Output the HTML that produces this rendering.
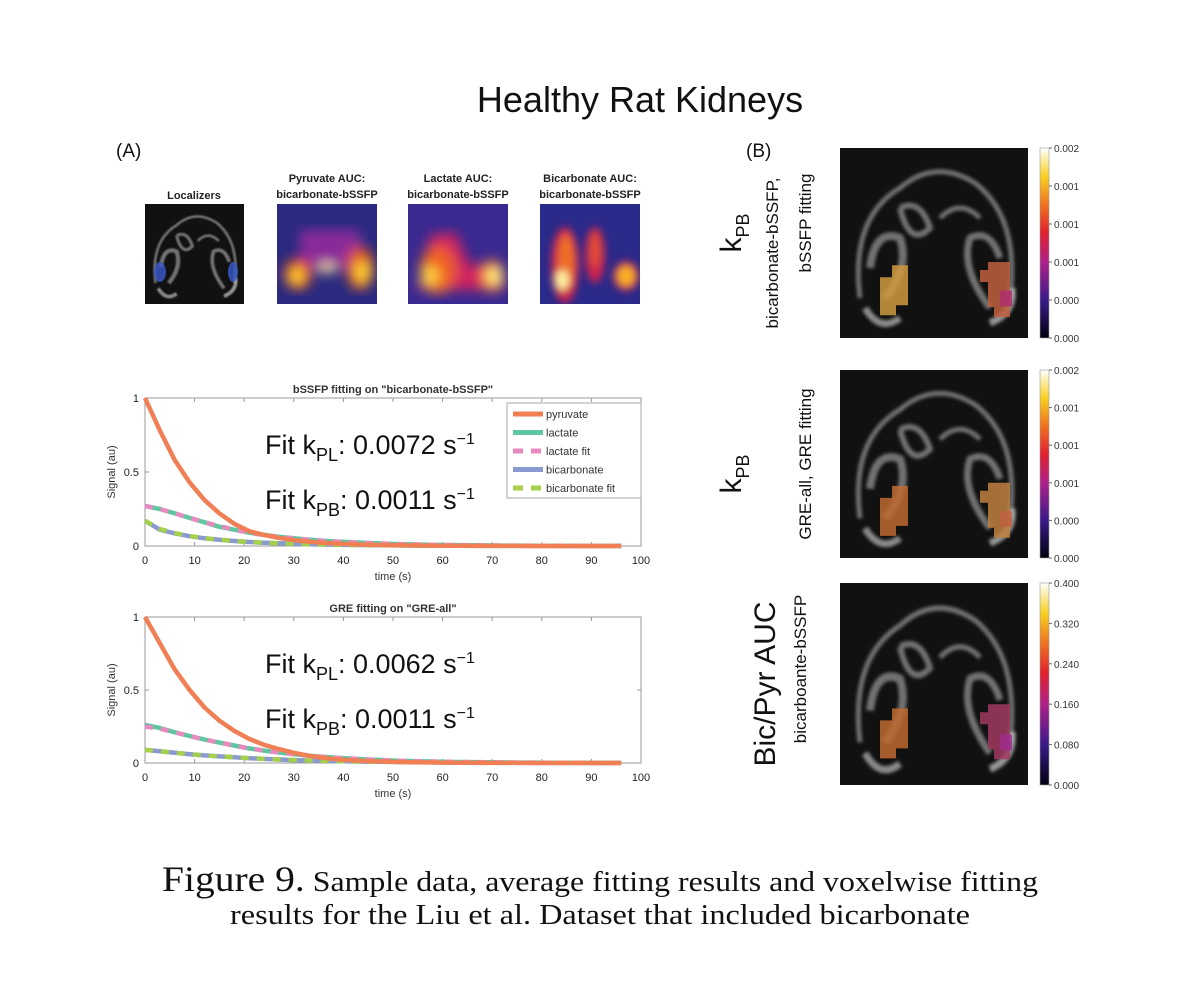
<!DOCTYPE html>
<html><head><meta charset="utf-8"><style>
html,body{margin:0;padding:0;background:#fff;}
svg{display:block;font-family:"Liberation Sans",Arial,sans-serif;}
</style></head><body>
<svg id="fig" width="1200" height="1006" viewBox="0 0 1200 1006" xmlns="http://www.w3.org/2000/svg">
<defs>
  <filter id="blur4"><feGaussianBlur stdDeviation="4"/></filter>
  <filter id="blur6"><feGaussianBlur stdDeviation="6"/></filter>
  <filter id="blur2"><feGaussianBlur stdDeviation="1.5"/></filter>
  <linearGradient id="cmapHot" x1="0" y1="1" x2="0" y2="0">
    <stop offset="0" stop-color="#000010"/><stop offset="0.2" stop-color="#3a1a8a"/>
    <stop offset="0.4" stop-color="#b0208a"/><stop offset="0.55" stop-color="#e02030"/>
    <stop offset="0.7" stop-color="#f07020"/><stop offset="0.85" stop-color="#f8d020"/>
    <stop offset="1" stop-color="#ffffff"/>
  </linearGradient>
  <clipPath id="cA1"><rect x="145" y="204" width="99" height="100"/></clipPath>
  <clipPath id="cA2"><rect x="277" y="204" width="100" height="100"/></clipPath>
  <clipPath id="cA3"><rect x="408" y="204" width="100" height="100"/></clipPath>
  <clipPath id="cA4"><rect x="540" y="204" width="100" height="100"/></clipPath>
  <g id="brain">
    <rect x="0" y="0" width="188" height="190" fill="#111"/>
    <g filter="url(#blur2)" fill="none" stroke="#9a9a9a" stroke-opacity="0.7">
      <path d="M20 150 Q10 70 60 40 Q95 10 135 35 Q180 70 170 150" stroke-width="5"/>
      <path d="M30 120 Q35 80 60 90 Q70 120 45 150" stroke-width="8"/>
      <path d="M160 110 Q150 80 130 90 Q120 120 150 160" stroke-width="7"/>
      <path d="M60 60 Q80 50 90 80 Q70 100 60 60" stroke-width="6"/>
      <path d="M100 70 Q120 50 140 70" stroke-width="5"/>
      <path d="M25 160 Q40 185 60 170" stroke-width="7" stroke="#bbb"/>
      <path d="M150 175 Q175 165 172 140" stroke-width="7" stroke="#ccc"/>
    </g>
  </g>
</defs>

<text x="640" y="112" font-size="36" text-anchor="middle" fill="#111">Healthy Rat Kidneys</text>
<text x="116" y="157" font-size="19" fill="#111">(A)</text>
<text x="746" y="157" font-size="19" fill="#111">(B)</text>

<g font-size="11" font-weight="bold" text-anchor="middle" fill="#222">
  <text x="194" y="199">Localizers</text>
  <text x="327" y="182">Pyruvate AUC:</text>
  <text x="327" y="198">bicarbonate-bSSFP</text>
  <text x="458" y="182">Lactate AUC:</text>
  <text x="458" y="198">bicarbonate-bSSFP</text>
  <text x="590" y="182">Bicarbonate AUC:</text>
  <text x="590" y="198">bicarbonate-bSSFP</text>
</g>
<g clip-path="url(#cA1)">
  <use href="#brain" transform="translate(145,204) scale(0.527,0.527)"/>
  <ellipse cx="160" cy="272" rx="6" ry="10" fill="#3a5ad0" opacity="0.8"/>
  <ellipse cx="233" cy="272" rx="5" ry="10" fill="#3a5ad0" opacity="0.8"/>
</g>
<g clip-path="url(#cA2)">
  <rect x="277" y="204" width="100" height="100" fill="#2a2a80"/>
  <g filter="url(#blur6)">
    <rect x="300" y="230" width="60" height="40" fill="#8a2a9a"/>
    <ellipse cx="298" cy="274" rx="14" ry="16" fill="#e04020"/>
    <ellipse cx="360" cy="268" rx="14" ry="22" fill="#e05020"/>
    <ellipse cx="297" cy="276" rx="8" ry="9" fill="#ffd030"/>
    <ellipse cx="362" cy="272" rx="8" ry="12" fill="#ffd030"/>
    <ellipse cx="327" cy="268" rx="9" ry="5" fill="#ffe0a0"/>
  </g>
</g>
<g clip-path="url(#cA3)">
  <rect x="408" y="204" width="100" height="100" fill="#3a2a90"/>
  <g filter="url(#blur6)">
    <path d="M418 290 L430 235 L455 232 L470 265 L500 262 L505 290 Z" fill="#d02060"/>
    <ellipse cx="438" cy="270" rx="18" ry="24" fill="#f06020"/>
    <ellipse cx="492" cy="276" rx="12" ry="16" fill="#f06020"/>
    <ellipse cx="430" cy="276" rx="9" ry="11" fill="#ffd040"/>
    <ellipse cx="494" cy="276" rx="8" ry="10" fill="#fff080"/>
  </g>
</g>
<g clip-path="url(#cA4)">
  <rect x="540" y="204" width="100" height="100" fill="#2a2a8a"/>
  <g filter="url(#blur4)">
    <ellipse cx="565" cy="265" rx="14" ry="38" fill="#d02050"/>
    <ellipse cx="595" cy="255" rx="10" ry="28" fill="#d02050"/>
    <ellipse cx="626" cy="276" rx="13" ry="15" fill="#d02050"/>
    <ellipse cx="566" cy="262" rx="8" ry="28" fill="#f07020"/>
    <ellipse cx="595" cy="250" rx="5" ry="18" fill="#e05030"/>
    <ellipse cx="626" cy="276" rx="9" ry="10" fill="#f8b020"/>
    <ellipse cx="562" cy="280" rx="7" ry="10" fill="#fff0a0"/>
  </g>
</g>

<g id="chart1"></g>
<g id="chart2"></g>

<g id="panelB"></g>

<text x="162" y="891" font-family="'Liberation Serif',serif" font-size="29" fill="#111" textLength="876" lengthAdjust="spacingAndGlyphs"><tspan font-size="36">Figure 9.</tspan> Sample data, average fitting results and voxelwise fitting</text>
<text x="230" y="924" font-family="'Liberation Serif',serif" font-size="29" fill="#111" textLength="740" lengthAdjust="spacingAndGlyphs">results for the Liu et al. Dataset that included bicarbonate</text>
</svg>

<script>
const NS="http://www.w3.org/2000/svg";
const times=[0,3,6,9,12,15,18,21,24,27,30,33,36,39,42,45,48,51,54,57,60,63,66,69,72,75,78,81,84,87,90,93,96];
const xTicks=[0,10,20,30,40,50,60,70,80,90,100];
const yTicks=[0,0.5,1];
const yTickLabels=["0","0.5","1"];
const c1Pyruvate=[1.0,0.78,0.58,0.43,0.31,0.22,0.15,0.10,0.075,0.055,0.04,0.03,0.022,0.016,0.012,0.009,0.007,0.005,0.004,0.003,0.002,0.002,0.001,0.001,0.001,0.001,0,0,0,0,0,0,0];
const c1Lactate=[0.27,0.25,0.22,0.19,0.16,0.13,0.11,0.09,0.075,0.062,0.052,0.043,0.036,0.03,0.025,0.02,0.016,0.013,0.011,0.009,0.007,0.006,0.005,0.004,0.003,0.003,0.002,0.002,0.002,0.001,0.001,0.001,0.001];
const c1LactateFit=[0.27,0.25,0.22,0.19,0.16,0.135,0.11,0.09,0.074,0.061,0.051,0.042,0.035,0.029,0.024,0.02,0.016,0.013,0.011,0.009,0.007,0.006,0.005,0.004,0.003,0.003,0.002,0.002,0.002,0.001,0.001,0.001,0.001];
const c1Bicarb=[0.17,0.11,0.085,0.066,0.052,0.042,0.034,0.027,0.022,0.018,0.015,0.012,0.01,0.008,0.007,0.006,0.005,0.004,0.003,0.003,0.002,0.002,0.002,0.001,0.001,0.001,0.001,0.001,0,0,0,0,0];
const c1BicarbFit=[0.17,0.115,0.087,0.067,0.053,0.042,0.034,0.027,0.022,0.018,0.015,0.012,0.01,0.008,0.007,0.006,0.005,0.004,0.003,0.003,0.002,0.002,0.002,0.001,0.001,0.001,0.001,0.001,0,0,0,0,0];
const c2Pyruvate=[1.0,0.82,0.64,0.5,0.38,0.29,0.22,0.165,0.125,0.095,0.07,0.05,0.035,0.025,0.018,0.013,0.01,0.007,0.005,0.004,0.003,0.002,0.002,0.001,0.001,0.001,0,0,0,0,0,0,0];
const c2Lactate=[0.26,0.24,0.21,0.185,0.16,0.14,0.12,0.1,0.085,0.072,0.06,0.05,0.042,0.035,0.029,0.024,0.02,0.016,0.013,0.011,0.009,0.007,0.006,0.005,0.004,0.003,0.003,0.002,0.002,0.002,0.001,0.001,0.001];
const c2LactateFit=[0.25,0.235,0.21,0.185,0.16,0.14,0.12,0.1,0.085,0.072,0.06,0.05,0.042,0.035,0.029,0.024,0.02,0.016,0.013,0.011,0.009,0.007,0.006,0.005,0.004,0.003,0.003,0.002,0.002,0.002,0.001,0.001,0.001];
const c2Bicarb=[0.09,0.08,0.07,0.06,0.052,0.045,0.039,0.033,0.028,0.024,0.02,0.017,0.015,0.013,0.011,0.009,0.008,0.007,0.006,0.005,0.004,0.004,0.003,0.003,0.002,0.002,0.002,0.002,0.001,0.001,0.001,0.001,0.001];
const c2BicarbFit=[0.09,0.08,0.07,0.06,0.052,0.045,0.039,0.033,0.028,0.024,0.02,0.017,0.015,0.013,0.011,0.009,0.008,0.007,0.006,0.005,0.004,0.004,0.003,0.003,0.002,0.002,0.002,0.002,0.001,0.001,0.001,0.001,0.001];
const legendLabels=["pyruvate","lactate","lactate fit","bicarbonate","bicarbonate fit"];
const colorbarTicks1=["0.002","0.001","0.001","0.001","0.000","0.000"];
const colorbarTicks3=["0.400","0.320","0.240","0.160","0.080","0.000"];

function mk(tag,attrs,parent,text){const e=document.createElementNS(NS,tag);for(const k in attrs)e.setAttribute(k,attrs[k]);if(text!==undefined)e.textContent=text;parent.appendChild(e);return e;}

function drawChart(g,cfg){
  const L=145,R=641,T=cfg.top,B=cfg.bottom;
  const xs=v=>L+(v/100)*(R-L);
  const ys=v=>B-v*(B-T);
  mk('text',{x:(L+R)/2,y:T-5,'font-size':11,'font-weight':'bold','text-anchor':'middle',fill:'#333'},g,cfg.title);
  const box=mk('rect',{x:L,y:T,width:R-L,height:B-T,fill:'#fff',stroke:'#999','stroke-width':1},g);
  
  
  xTicks.forEach(t=>{
    mk('line',{x1:xs(t),x2:xs(t),y1:B,y2:B-4,stroke:'#999'},g);
    mk('line',{x1:xs(t),x2:xs(t),y1:T,y2:T+4,stroke:'#999'},g);
    const tl=mk('text',{x:xs(t),y:B+18,'font-size':11,'text-anchor':'middle',fill:'#222'},g,String(t));
    
    
  });
  yTicks.forEach((t,i)=>{
    mk('line',{x1:L,x2:L+4,y1:ys(t),y2:ys(t),stroke:'#999'},g);
    mk('line',{x1:R,x2:R-4,y1:ys(t),y2:ys(t),stroke:'#999'},g);
    const tl=mk('text',{x:L-6,y:ys(t)+4,'font-size':11,'text-anchor':'end',fill:'#222'},g,yTickLabels[i]);
    
    
  });
  const xt=mk('text',{x:(L+R)/2,y:B+34,'font-size':11,'text-anchor':'middle',fill:'#333'},g,'time (s)');
  
  
  const yt=mk('text',{x:0,y:0,'font-size':11,'text-anchor':'middle',fill:'#333',transform:`translate(${L-30},${(T+B)/2}) rotate(-90)`},g,'Signal (au)');
  
  
  const series=[
    [cfg.pyr,'#f07f55',null,'pyruvate-line'],
    [cfg.lac,'#5ec6a0',null,'lactate-line'],
    [cfg.lacFit,'#e88ac0','8 8','lactate-fit-line'],
    [cfg.bic,'#8a9ad0',null,'bicarbonate-line'],
    [cfg.bicFit,'#a6d04a','8 8','bicarbonate-fit-line']];
  const order=[3,4,1,2,0];
  order.forEach(i=>{
    const [d,col,dash,name]=series[i];
    const pts=d.map((v,j)=>xs(times[j]).toFixed(1)+','+ys(v).toFixed(1)).join(' ');
    const a={points:pts,fill:'none',stroke:col,'stroke-width':4.5,'stroke-linejoin':'round'};
    if(dash)a['stroke-dasharray']=dash;
    const pl=mk('polyline',a,g);
    
    
  });
  [[cfg.k1,"PL",T+56],[cfg.k2,"PB",T+111]].forEach(([val,sub,y])=>{
    const t=mk('text',{x:265,y:y,'font-size':27,fill:'#111'},g);
    
    
    mk('tspan',{},t,'Fit k');
    mk('tspan',{'font-size':18,dy:7},t,sub);
    mk('tspan',{dy:-7},t,': '+val+' s');
    mk('tspan',{'font-size':16,dy:-10},t,'\u22121');
  });
  if(cfg.legend){
    const lg=mk('g',{},g);
    
    
    mk('rect',{x:507,y:403,width:134,height:95,fill:'#fff',stroke:'#aaa'},lg);
    legendLabels.forEach((lab,i)=>{
      const y=414+i*18.5;
      const col=series[i][1];
      const e=mk('g',{},lg);
      
      
      const a={x1:513,x2:543,y1:y,y2:y,stroke:col,'stroke-width':5};
      if(series[i][2])a['stroke-dasharray']='10 8';
      mk('line',a,e);
      mk('text',{x:546,y:y+4,'font-size':11,fill:'#333'},e,lab);
    });
  }
}
drawChart(document.getElementById('chart1'),{top:398,bottom:546,title:'bSSFP fitting on "bicarbonate-bSSFP"',pyr:c1Pyruvate,lac:c1Lactate,lacFit:c1LactateFit,bic:c1Bicarb,bicFit:c1BicarbFit,k1:'0.0072',k2:'0.0011',legend:true});
drawChart(document.getElementById('chart2'),{top:617,bottom:763,title:'GRE fitting on "GRE-all"',pyr:c2Pyruvate,lac:c2Lactate,lacFit:c2LactateFit,bic:c2Bicarb,bicFit:c2BicarbFit,k1:'0.0062',k2:'0.0011',legend:false});

const pB=document.getElementById('panelB');
const panels=[
  {y:148,h:190,big:'k',sub:'PB',l1:'bicarbonate-bSSFP,',l2:'bSSFP fitting',ticks:colorbarTicks1,lc:'#d09a40',rc:'#c06040',rc2:'#b02a70',name:'kpb-bssfp-map'},
  {y:370,h:188,big:'k',sub:'PB',l1:'',l2:'GRE-all, GRE fitting',ticks:colorbarTicks1,lc:'#c06a30',rc:'#c08040',rc2:'#c06040',name:'kpb-gre-map'},
  {y:583,h:202,big:'Bic/Pyr AUC',sub:'',l1:'',l2:'bicarboante-bSSFP',ticks:colorbarTicks3,lc:'#c06a30',rc:'#a03a60',rc2:'#a02a90',name:'bic-pyr-auc-map'}];
panels.forEach((p,i)=>{
  const g=mk('g',{},pB);
  
  
  const cx=840,w=188;
  const sx=w/188, sy=p.h/190;
  mk('use',{href:'#brain',transform:`translate(${cx},${p.y}) scale(${sx},${sy})`},g);
  const bx=cx, by=p.y;
  mk('path',{d:`M${bx+40} ${by+p.h*0.68} h12 v-12 h16 v40 h-12 v10 h-16 Z`,fill:p.lc,opacity:0.85},g);
  mk('path',{d:`M${bx+148} ${by+p.h*0.6} h22 v55 h-16 v-10 h-6 v-25 h-8 v-12 h8 Z`,fill:p.rc,opacity:0.85},g);
  mk('rect',{x:bx+160,y:by+p.h*0.75,width:12,height:16,fill:p.rc2,opacity:0.8},g);
  const cbx=1040,cby=p.y,cbh=p.h;
  const cb=mk('rect',{x:cbx,y:cby,width:9,height:cbh,fill:'url(#cmapHot)',stroke:'#999','stroke-width':0.6},g);
  
  
  p.ticks.forEach((t,k)=>{
    const yy=cby+k*(cbh/(p.ticks.length-1));
    mk('line',{x1:cbx+9,x2:cbx+12,y1:yy,y2:yy,stroke:'#666'},g);
    const tl=mk('text',{x:cbx+14,y:yy+4,'font-size':10,fill:'#333'},g,t);
    
    
  });
  const midY=p.y+p.h/2;
  if(p.sub){
    const t=mk('text',{'font-size':30,'text-anchor':'middle',fill:'#111',transform:`translate(741,${midY-10+(i==1?20:0)}) rotate(-90)`},g);
    
    
    mk('tspan',{},t,'k');
    mk('tspan',{'font-size':18,dy:8},t,'PB');
  } else {
    const t=mk('text',{'font-size':30,'text-anchor':'middle',fill:'#111',transform:`translate(775,${midY}) rotate(-90)`},g,p.big);
    
    
  }
  if(p.l1){
    const s=mk('text',{'font-size':17,'text-anchor':'middle',fill:'#111',transform:`translate(778,${midY+10}) rotate(-90)`},g,p.l1);
    
    
  }
  const s2=mk('text',{'font-size':17,'text-anchor':'middle',fill:'#111',transform:`translate(${i==2?806:811},${midY-(i==0?20:i==1?0:15)}) rotate(-90)`},g,p.l2);
  
  
});
</script>
</body></html>
